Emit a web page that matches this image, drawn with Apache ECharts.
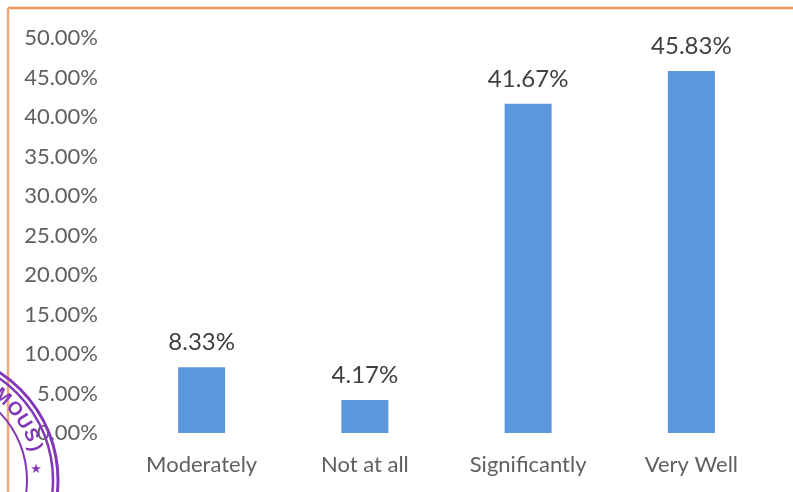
<!DOCTYPE html>
<html><head><meta charset="utf-8">
<style>html,body{margin:0;padding:0;background:#fff}#c{width:793px;height:492px}</style>
<script src="https://cdn.jsdelivr.net/npm/echarts@6/dist/echarts.min.js"></script></head>
<body><div id="c"></div>
<script>
const categories = ["Moderately","Not at all","Significantly","Very Well"];
const values = [8.33,4.17,41.67,45.83];
const stampLetters = [["N",66],["O",58],["M",49],["O",40],["U",32],["S",24],[")",17]];
const stamp = '#8238b8', cx=-70, cy=480;
const stampText = stampLetters.map(([t,a])=>{
  const r=110, rad=a*Math.PI/180;
  return {type:'text',x:cx+r*Math.cos(rad),y:cy-r*Math.sin(rad),rotation:(a-90)*Math.PI/180,z:20,
    style:{text:t,fill:stamp,font:'bold 19px "Liberation Sans"',align:'center',verticalAlign:'middle'}};
});
const chart = echarts.init(document.getElementById('c'),null,{renderer:'canvas'});
chart.setOption({
  animation:false,
  backgroundColor:'#fff',
  graphic:[
    {type:'line',shape:{x1:8,y1:8,x2:793,y2:8},style:{stroke:'#f0965a',lineWidth:2.5},z:1},
    {type:'line',shape:{x1:8,y1:8,x2:8,y2:492},style:{stroke:'#f0a878',lineWidth:2.5},z:1},
    {type:'circle',shape:{cx,cy,r:128},style:{fill:'none',stroke:stamp,lineWidth:3},z:20},
    {type:'circle',shape:{cx,cy,r:123},style:{fill:'none',stroke:stamp,lineWidth:2.5},z:20},
    {type:'circle',shape:{cx,cy,r:97},style:{fill:'none',stroke:stamp,lineWidth:2},z:20},
    {type:'text',x:36,y:470,z:20,style:{text:'★',fill:stamp,font:'13px "DejaVu Sans"',align:'center',verticalAlign:'middle'}},
    ...stampText
  ],
  grid:{left:120,right:20,top:38,bottom:59},
  xAxis:{type:'category',data:categories,axisLine:{show:false},axisTick:{show:false},
    axisLabel:{color:'#5f5f5f',fontSize:22,fontFamily:'Lato',margin:21}},
  yAxis:{type:'value',min:0,max:50,interval:5,splitLine:{show:false},axisLine:{show:false},axisTick:{show:false},
    axisLabel:{color:'#5f5f5f',fontSize:22,fontFamily:'Lato',margin:22,formatter:v=>v.toFixed(2)+'%'}},
  series:[{type:'bar',data:values,barWidth:47,itemStyle:{color:'#5b97dc'},
    label:{show:true,position:'top',distance:13,color:'#404040',fontSize:24,fontFamily:'Lato',formatter:p=>p.value.toFixed(2)+'%'}}]
});
</script></body></html>
